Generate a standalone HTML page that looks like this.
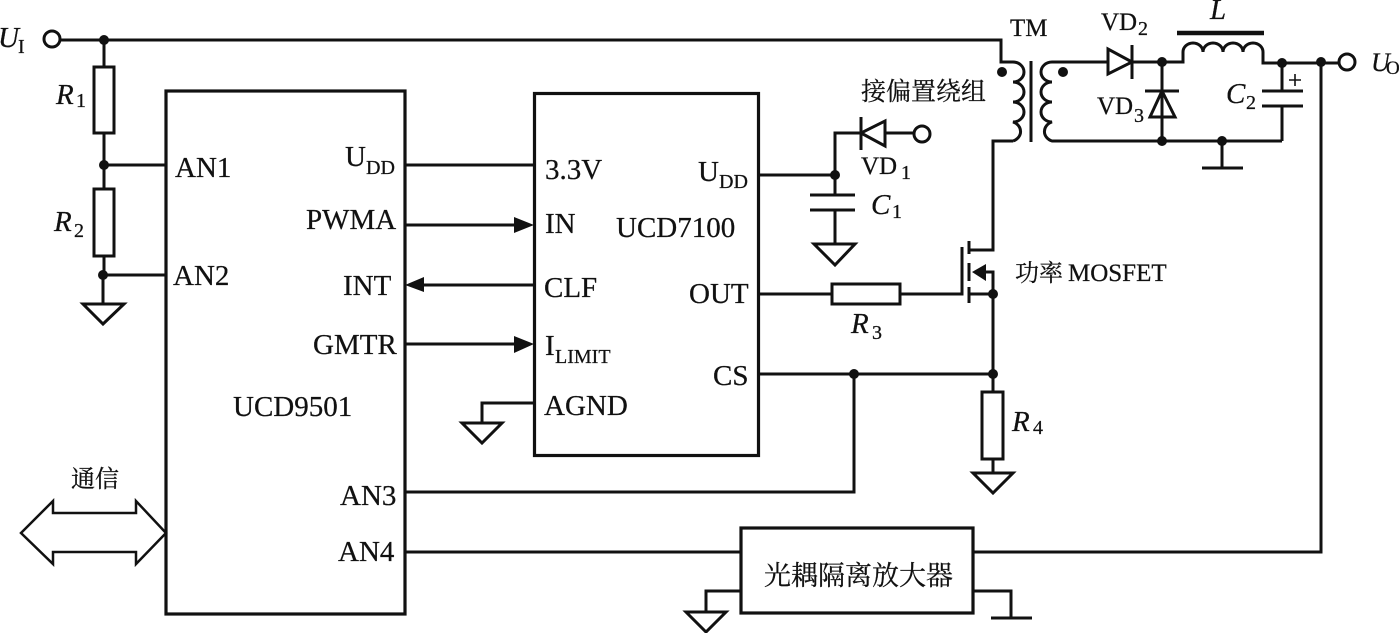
<!DOCTYPE html>
<html><head><meta charset="utf-8">
<style>
html,body{margin:0;padding:0;background:#fff;width:1399px;height:633px;overflow:hidden}
svg{display:block}
text{font-family:"Liberation Serif","Noto Serif CJK SC",serif;font-size:29px;fill:#111;stroke:#111;stroke-width:.25}
.i{font-style:italic}
.s{font-size:20px}
.c{font-family:"Liberation Serif","Noto Serif CJK SC",serif}
.w{fill:none;stroke:#111;stroke-width:3}
.b{fill:none;stroke:#111;stroke-width:3.2}
.t{fill:#fff;stroke:#111;stroke-width:3}
</style></head><body>
<svg width="1399" height="633" viewBox="0 0 1399 633" xmlns="http://www.w3.org/2000/svg">
<rect width="1399" height="633" fill="#fff"/>
<!-- Chips -->
<rect class="b" x="166" y="91" width="239" height="523"/>
<rect class="b" x="534.5" y="93.5" width="224" height="362"/>
<rect class="b" x="741" y="528" width="232" height="85"/>
<!-- Wires left -->
<path class="w" d="M60 40H1001V62H1013M104 40V66M104 133V189M104 165H166M104 256V275M103 275H166M103 275V304"/>
<rect class="w" x="94" y="67" width="20" height="66"/>
<rect class="w" x="94" y="189" width="20" height="67"/>
<circle class="w" cx="52" cy="39" r="8" stroke-width="3.5"/>
<path class="w" d="M83 304H124L103 324Z"/>
<!-- Between chips -->
<path class="w" d="M405 165H534M405 225H516M424 285H534M405 344H516M534 403H482V423"/>
<path d="M514 217L534 225L514 233Z M514 336L534 344L514 353Z M405 285L424 277V292Z" fill="#111"/>
<path class="w" d="M462 423H502L482 443Z"/>
<!-- VD1 C1 -->
<path class="w" d="M758 175H835V133H861M885 133H914M835 175V195M835 210V244M810 195H855M810 210H855"/>
<path class="w" d="M861 117V150M885 121V146L861 133Z"/>
<circle class="w" cx="922" cy="134" r="8" stroke-width="3.5"/>
<path class="w" d="M814 244H855L835 265Z"/>
<!-- R3 MOSFET -->
<path class="w" d="M758 294H832M900 294H962V247"/>
<rect class="w" x="832" y="284" width="68" height="20"/>
<path class="w" d="M969 241V254M969 263V281M969 287V303M969 250H993V141H1013M969 294H993M986 272H993V294M993 294V392"/>
<path d="M972 272L986 264V281Z" fill="#111"/>
<!-- CS, R4 -->
<path class="w" d="M758 374H993M854 374V492H405M993 459V473"/>
<rect class="w" x="982" y="392" width="21" height="67"/>
<path class="w" d="M973 473H1013L993 493Z"/>
<!-- Transformer -->
<path class="w" d="M1013 62A11 10 0 0 1 1013 82A11 10 0 0 1 1013 102A11 10 0 0 1 1013 122A11 10 0 0 1 1013 141"/>
<path class="w" d="M1031 61V142"/>
<path class="w" d="M1162 62H1052A11 10 0 0 0 1052 82A11 10 0 0 0 1052 102A11 10 0 0 0 1052 122A11 10 0 0 0 1052 141H1282"/>
<circle cx="1002" cy="72" r="5" fill="#111"/>
<circle cx="1063" cy="72" r="5" fill="#111"/>
<!-- VD2 VD3 -->
<path class="t" d="M1108 49V74L1132 62Z"/>
<path class="w" d="M1132 45V79"/>
<path class="w" d="M1162 62V141"/>
<path class="w" d="M1145 91H1179"/>
<path class="w" d="M1162 91L1150 117H1175Z"/>
<!-- Inductor -->
<path d="M1177 33H1264" stroke="#111" stroke-width="4.5" fill="none"/>
<path class="w" d="M1162 62H1183V52A10 9 0 0 1 1203 52A10 9 0 0 1 1223 52A10 9 0 0 1 1243 52A10 9 0 0 1 1263 52V63H1339"/>
<!-- C2 -->
<path class="w" d="M1282 63V91M1282 106V141M1262 91H1303M1262 106H1303M1222 141V168M1202 168H1243"/>
<path d="M1289 80H1301M1295 74V86" stroke="#111" stroke-width="1.6" fill="none"/>
<circle class="w" cx="1347" cy="62" r="8" stroke-width="3.5"/>
<path class="w" d="M1321 62V552H973M405 552H741"/>
<!-- optocoupler ground -->
<path class="w" d="M741 591H706V612M973 591H1011V618M991 618H1032"/>
<path class="w" d="M686 612H726L706 632Z"/>
<!-- Double arrow -->
<path fill="#fff" stroke="#111" stroke-width="2.5" d="M21 533L53 501V513H136V501L166 533L136 564V552H53V564Z"/>
<!-- Junctions -->
<g fill="#111">
<circle cx="104" cy="40" r="5"/><circle cx="104" cy="165" r="5"/><circle cx="103" cy="275" r="5"/>
<circle cx="835" cy="175" r="5"/><circle cx="993" cy="294" r="5"/><circle cx="993" cy="374" r="5"/><circle cx="854" cy="374" r="5"/>
<circle cx="1162" cy="62" r="5"/><circle cx="1162" cy="141" r="5"/><circle cx="1222" cy="141" r="5"/><circle cx="1282" cy="63" r="5"/><circle cx="1321" cy="62" r="5"/>
</g>
<!-- Labels -->
<text class="i" x="-2" y="47">U</text><text class="s" x="18" y="53">I</text>
<text class="i" x="56" y="104">R</text><text class="s" x="76" y="107">1</text>
<text class="i" x="54" y="231">R</text><text class="s" x="74" y="237">2</text>
<text x="175" y="177">AN1</text>
<text x="173" y="285">AN2</text>
<text x="345" y="166">U</text><text class="s" x="366" y="174">DD</text>
<text x="306" y="229">PWMA</text>
<text x="343" y="295">INT</text>
<text x="313" y="354">GMTR</text>
<text x="233" y="416">UCD9501</text>
<text x="340" y="505">AN3</text>
<text x="338" y="561">AN4</text>
<text x="545" y="179">3.3V</text>
<text x="545" y="233">IN</text>
<text x="544" y="297">CLF</text>
<text x="545" y="355">I</text><text class="s" x="555" y="363">LIMIT</text>
<text x="544" y="415">AGND</text>
<text x="616" y="237">UCD7100</text>
<text x="698" y="181">U</text><text class="s" x="719" y="188">DD</text>
<text x="689" y="303">OUT</text>
<text x="713" y="385">CS</text>
<text class="c" style="font-size:25px" x="861" y="100">接偏置绕组</text>
<text x="861" y="174" style="font-size:25px">VD</text><text class="s" x="901" y="179">1</text>
<text class="i" x="871" y="214">C</text><text class="s" x="892" y="218">1</text>
<text class="i" x="851" y="333">R</text><text class="s" x="872" y="339">3</text>
<text class="i" x="1012" y="431">R</text><text class="s" x="1033" y="434">4</text>
<text class="c" style="font-size:24px" x="1015" y="281">功率</text>
<text style="font-size:25px" x="1068" y="281">MOSFET</text>
<text style="font-size:25px" x="1010" y="36">TM</text>
<text style="font-size:25px" x="1101" y="30">VD</text><text class="s" x="1138" y="35">2</text>
<text style="font-size:25px" x="1097" y="114">VD</text><text class="s" x="1134" y="122">3</text>
<text class="i" x="1210" y="19">L</text>
<text class="i" x="1226" y="103">C</text><text class="s" x="1246" y="109">2</text>
<text class="i" x="1371" y="71" style="font-size:26px">U</text><text x="1386" y="74" style="font-size:19px">O</text>
<text class="c" style="font-size:24px" x="71" y="487">通信</text>
<text class="c" style="font-size:27px" x="764" y="585">光耦隔离放大器</text>
</svg>
</body></html>
